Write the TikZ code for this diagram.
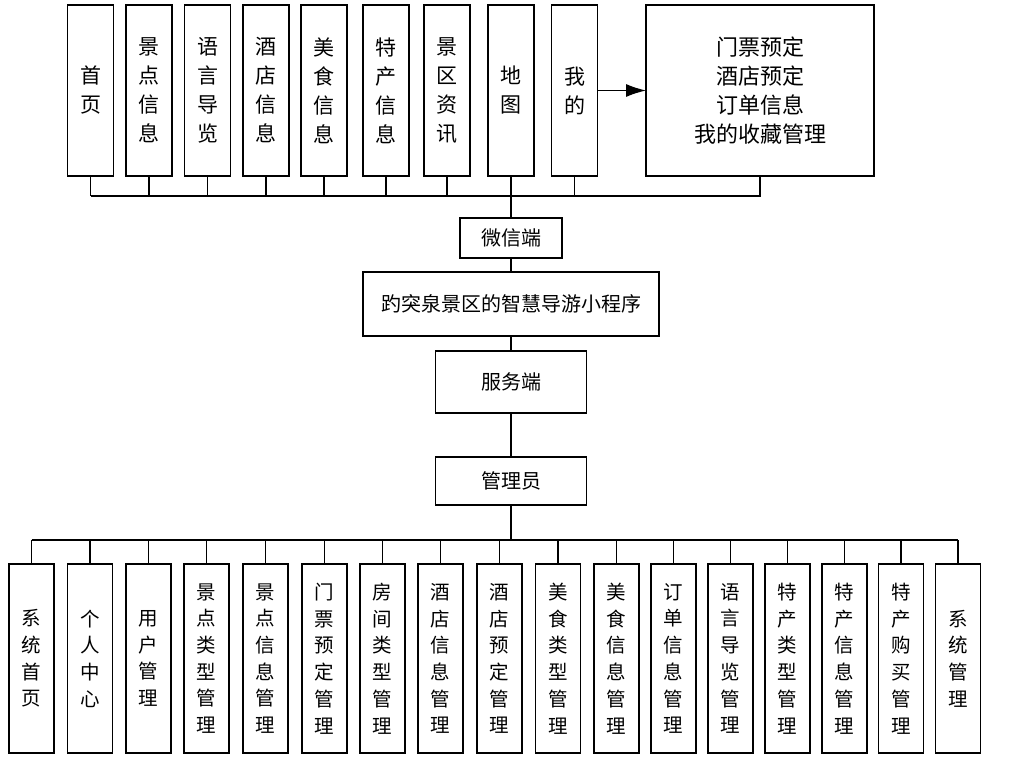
\documentclass[tikz,border=0pt]{standalone}
\usepackage{fontspec}
\setmainfont{Noto Sans CJK SC}
\usepackage{tikz}
\usetikzlibrary{arrows.meta}
\usetikzlibrary{positioning}

\begin{document}
\begin{tikzpicture}[
    x=1pt, y=-1pt,
    every node/.style={draw, line width=1.1pt, inner sep=0pt, outer sep=0pt, align=center},
    topbox/.style={minimum width=46pt, minimum height=171pt, font=\fontsize{21}{29}\selectfont},
    botbox/.style={minimum width=45pt, minimum height=189pt, font=\fontsize{19.5}{26.7}\selectfont},
    hub/.style={minimum height=40pt, font=\fontsize{20}{22}\selectfont},
    wire/.style={draw, line width=1.1pt},
]
\useasboundingbox (0,0) rectangle (1024,770);

% client side
\foreach \x/\t [count=\i] in {90.5/首\\页, 149/景\\点\\信\\息, 207.5/语\\言\\导\\览,
    266/酒\\店\\信\\息, 324/美\\食\\信\\息, 386/特\\产\\信\\息,
    447/景\\区\\资\\讯, 511/地\\图, 574.5/我\\的}
    \node[topbox] (t\i) at (\x,90.5) {\t};

\node[minimum width=228pt, minimum height=171pt, font=\fontsize{22}{29}\selectfont]
    (mine) at (760,90.5) {门票预定\\酒店预定\\订单信息\\我的收藏管理};
\draw[wire, -{Latex[length=20pt, width=13pt]}] (t9.east) -- (mine.west);

\coordinate (tbus) at (0,196);
\foreach \i in {1,...,9}
    \draw[wire] (t\i.south) -- (t\i.south |- tbus);
\draw[wire] (t1.south |- tbus) -- (mine.south |- tbus) -- (mine.south);

% middle
\node[hub, minimum width=102pt] (wx) at (511,238) {微信端};
\node[hub, minimum width=296pt, minimum height=64pt] (app) at (511,304) {趵突泉景区的智慧导游小程序};
\node[hub, minimum width=151pt, minimum height=62pt] (srv) at (511,382) {服务端};
\node[hub, minimum width=151pt, minimum height=48pt] (admin) at (511,481) {管理员};

\draw[wire] (t8.south) -- (wx.north);
\draw[wire] (wx.south) -- (app.north);
\draw[wire] (app.south) -- (srv.north);
\draw[wire] (srv.south) -- (admin.north);

% admin side
\foreach \x/\t [count=\i] in {31.5/系\\统\\首\\页, 90/个\\人\\中\\心, 148.5/用\\户\\管\\理,
    206.5/景\\点\\类\\型\\管\\理, 265.5/景\\点\\信\\息\\管\\理, 324.5/门\\票\\预\\定\\管\\理,
    382.5/房\\间\\类\\型\\管\\理, 440.5/酒\\店\\信\\息\\管\\理, 499.5/酒\\店\\预\\定\\管\\理,
    558/美\\食\\类\\型\\管\\理, 616.5/美\\食\\信\\息\\管\\理, 673.5/订\\单\\信\\息\\管\\理,
    730.5/语\\言\\导\\览\\管\\理, 787.5/特\\产\\类\\型\\管\\理, 844.5/特\\产\\信\\息\\管\\理,
    901/特\\产\\购\\买\\管\\理, 958/系\\统\\管\\理}
    \node[botbox] (b\i) at (\x,658.5) {\t};

\coordinate (bbus) at (0,540);
\draw[wire] (admin.south) -- (admin.south |- bbus);
\draw[wire] (b1.north |- bbus) -- (b17.north |- bbus);
\foreach \i in {1,...,17}
    \draw[wire] (b\i.north |- bbus) -- (b\i.north);

\end{tikzpicture}
\end{document}
